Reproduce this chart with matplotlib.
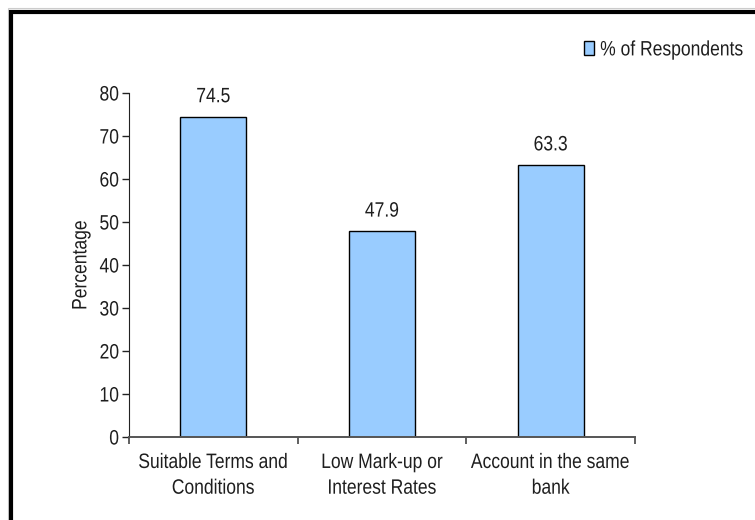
import matplotlib
matplotlib.use("Agg")
import matplotlib.pyplot as plt
from matplotlib.patches import Rectangle
from matplotlib.patheffects import AbstractPathEffect
from matplotlib.transforms import Affine2D

categories = ["Suitable Terms and\nConditions", "Low Mark-up or\nInterest Rates", "Account in the same\nbank"]
values = [74.5, 47.9, 63.3]
yticks = [0, 10, 20, 30, 40, 50, 60, 70, 80]
series_name = "% of Respondents"


class Condense(AbstractPathEffect):
    """Squeeze text along its reading direction (narrow font look)."""
    def __init__(self, s=0.84, anchor="center", vertical=False):
        super().__init__()
        self.s, self.anchor, self.vertical = s, anchor, vertical

    def draw_path(self, renderer, gc, tpath, affine, rgbFace=None):
        ext = affine.transform_path(tpath).get_extents()
        if self.vertical:
            c = (ext.y0 + ext.y1) / 2
            t = Affine2D().translate(0, -c).scale(1, self.s).translate(0, c)
        else:
            if self.anchor == "left":
                c = ext.x0
            elif self.anchor == "right":
                c = ext.x1
            else:
                c = (ext.x0 + ext.x1) / 2
            t = Affine2D().translate(-c, 0).scale(self.s, 1).translate(c, 0)
        renderer.draw_path(gc, tpath, affine + t, rgbFace)


plt.rcParams['font.family'] = ['Liberation Sans', 'DejaVu Sans']
FS = 15
SQ = 0.84
TXT = "#1e1e1e"
W, H = 755, 520
fig = plt.figure(figsize=(W/100, H/100), dpi=100)
ax = fig.add_axes([129/W, 1-437/H, (635-129)/W, (437-93)/H])

x = list(range(len(categories)))
bars = ax.bar(x, values, width=0.39, color="#99CCFF", edgecolor="black", linewidth=1.0, label=series_name)
for xi, v in zip(x, values):
    ax.annotate(f"{v}", (xi, v), xytext=(0, 7.5), textcoords="offset points",
                ha="center", va="bottom", fontsize=FS, color=TXT, clip_on=False,
                path_effects=[Condense(SQ)])

ax.set_xlim(-0.5, len(categories) - 0.5)
ax.set_ylim(0, 80)
ax.set_yticks(yticks)
ax.set_xticks(x)
ax.set_xticklabels(categories, fontsize=FS, linespacing=1.45, color=TXT)
ax.set_xticks([i + 0.5 for i in range(-1, len(categories))], minor=True)
ax.tick_params(axis="x", which="major", length=0, pad=11.5)
ax.tick_params(axis="x", which="minor", length=5, width=1.2, color="#444444", direction="out")
ax.tick_params(axis="y", length=5, width=1.0, color="#222222", labelsize=FS, labelcolor=TXT, pad=2)
for lab in ax.get_xticklabels():
    lab.set_path_effects([Condense(SQ)])
for lab in ax.get_yticklabels():
    lab.set_path_effects([Condense(SQ, anchor="right")])
for s in ["top", "right"]:
    ax.spines[s].set_visible(False)
ax.spines["left"].set_color("#222222")
ax.spines["bottom"].set_color("#555555")
ax.spines["bottom"].set_linewidth(1.4)
yl = ax.set_ylabel("Percentage", fontsize=FS, color=TXT, labelpad=4)
yl.set_path_effects([Condense(SQ, vertical=True)])

leg = fig.legend(handles=[bars], labels=[series_name], loc="upper left",
                 bbox_to_anchor=(574/W, 1-30/H), frameon=False, fontsize=FS,
                 handlelength=0.45, handleheight=0.6, handletextpad=0.3, borderpad=0)
for t in leg.get_texts():
    t.set_color(TXT)
    t.set_path_effects([Condense(SQ, anchor="left")])

# outer border
fig.patches.append(Rectangle((11/W, -0.2), 1.2, 1 - 12/H + 0.2, transform=fig.transFigure,
                             fill=False, edgecolor="black", linewidth=3.0, zorder=5))
fig.patches.append(Rectangle((8/W, -0.2), 1.2, 1 - 8/H + 0.2, transform=fig.transFigure,
                             fill=False, edgecolor="#cccccc", linewidth=0.8, zorder=4))

fig.savefig("out.png", dpi=100)
